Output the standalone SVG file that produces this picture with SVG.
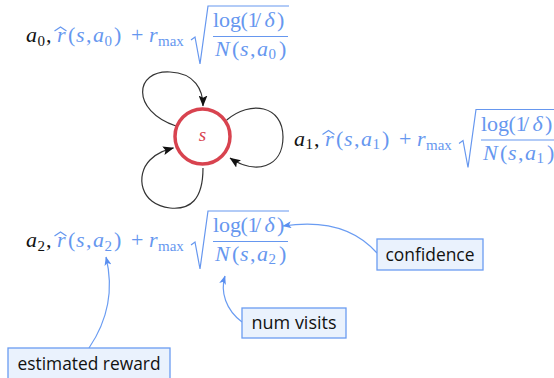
<svg xmlns="http://www.w3.org/2000/svg" width="554" height="378" viewBox="0 0 554 378">
<style>
.m{font-family:"Liberation Serif","Times New Roman",serif;font-size:22px;fill:#6697ef}
.i{font-style:italic}
.k{fill:#111}
.sb{font-size:15px}
.rad{fill:none;stroke:#6697ef;stroke-width:1.2;stroke-linejoin:miter}
.bar{stroke:#6697ef;stroke-width:1.1}
.box rect{fill:#eaf2fd;stroke:#6a9cf2;stroke-width:1.3}
.box text{font-family:"Open Sans","Noto Sans",sans-serif;font-size:17.5px;fill:#111;text-anchor:middle}
.loop{fill:none;stroke:#333;stroke-width:1.2}
.ann{fill:none;stroke:#6a9cf2;stroke-width:1.2}
</style>
<defs>
<marker id="ak" viewBox="0 0 10 8" refX="9.5" refY="4" markerWidth="11" markerHeight="9" markerUnits="userSpaceOnUse" orient="auto">
<path d="M0,0 L10,4 L0,8 L2,4 Z" fill="#111"/>
</marker>
<marker id="ab" viewBox="0 0 10 8" refX="9.5" refY="4" markerWidth="9" markerHeight="7" markerUnits="userSpaceOnUse" orient="auto">
<path d="M0,0 L10,4 L0,8 L2.5,4 Z" fill="#5a8ff0"/>
</marker>
<g id="ucb">
<path class="rad" d="M165,-2 L169,-5 L174,22 L182,-36 L263,-36"/>
<path class="rad" d="M28.5,-11 L34.5,-15 L40.5,-11" stroke-width="1"/>
<text class="m"><tspan class="i" x="31">r</tspan><tspan x="42">(</tspan><tspan class="i" x="50">s</tspan><tspan x="60">,</tspan><tspan class="i" x="67">a</tspan><tspan x="88">)</tspan><tspan x="105">+</tspan><tspan class="i" x="123">r</tspan></text>
<text class="m sb" x="132" y="4">max</text>
<text class="m" y="-15"><tspan x="187">log</tspan><tspan x="214.5">(</tspan><tspan x="221.5">1</tspan><tspan x="229">/</tspan><tspan class="i" x="238.5">δ</tspan><tspan x="251">)</tspan></text>
<line class="bar" x1="187" y1="-5.5" x2="262" y2="-5.5"/>
<text class="m" y="14"><tspan class="i" x="189">N</tspan><tspan x="206">(</tspan><tspan class="i" x="214">s</tspan><tspan x="224">,</tspan><tspan class="i" x="231">a</tspan><tspan x="253">)</tspan></text>
</g>
</defs>
<g id="connectors">
<path class="loop" d="M176,126 C130,110 135,70 170,72 C195,73 203,90 203,106" marker-end="url(#ak)"/>
<path class="loop" d="M226.7,120 C250,100 283,105 283,137 C283,168 255,175 230,158" marker-end="url(#ak)"/>
<path class="loop" d="M203,168 C203,200 190,210 170,208 C140,205 135,175 150,160 C158,152 166,150 173.5,148" marker-end="url(#ak)"/>
<path class="ann" d="M377,253 C362,236 335,218 283,226" marker-end="url(#ab)"/>
<path class="ann" d="M242,322 C226,310 220,292 225,276" marker-end="url(#ab)"/>
<path class="ann" d="M89,348 C108,320 114,290 106,257" marker-end="url(#ab)"/>
</g>
<g id="node-s">
<circle cx="202.5" cy="136.5" r="27.5" fill="#fff" stroke="#d8434f" stroke-width="3.5"/>
<text x="202.5" y="141" font-family="Liberation Serif,serif" font-style="italic" font-size="19" fill="#d8434f" text-anchor="middle">s</text>
</g>
<g id="label-a0" transform="translate(26,42)">
<text class="m i k" x="0">a</text><text class="m k sb" x="11.5" y="3.5">0</text><text class="m k" x="20">,</text>
<use href="#ucb"/>
<text class="m sb" x="78.5" y="3.5">0</text>
<text class="m sb" x="242.5" y="17">0</text>
</g>
<g id="label-a1" transform="translate(294,145.5)">
<text class="m i k" x="0">a</text><text class="m k sb" x="11.5" y="3.5">1</text><text class="m k" x="20">,</text>
<use href="#ucb"/>
<text class="m sb" x="78.5" y="3.5">1</text>
<text class="m sb" x="242.5" y="17">1</text>
</g>
<g id="label-a2" transform="translate(26,247)">
<text class="m i k" x="0">a</text><text class="m k sb" x="11.5" y="3.5">2</text><text class="m k" x="20">,</text>
<use href="#ucb"/>
<text class="m sb" x="78.5" y="3.5">2</text>
<text class="m sb" x="242.5" y="17">2</text>
</g>
<g id="box-confidence" class="box">
<rect x="377" y="239" width="106" height="31"/>
<text x="430" y="261" textLength="89" lengthAdjust="spacingAndGlyphs">confidence</text>
</g>
<g id="box-numvisits" class="box">
<rect x="242" y="308" width="104" height="30"/>
<text x="294" y="329" textLength="85" lengthAdjust="spacingAndGlyphs">num visits</text>
</g>
<g id="box-reward" class="box">
<rect x="8" y="348" width="162" height="40"/>
<text x="89" y="370" textLength="143" lengthAdjust="spacingAndGlyphs">estimated reward</text>
</g>
</svg>
